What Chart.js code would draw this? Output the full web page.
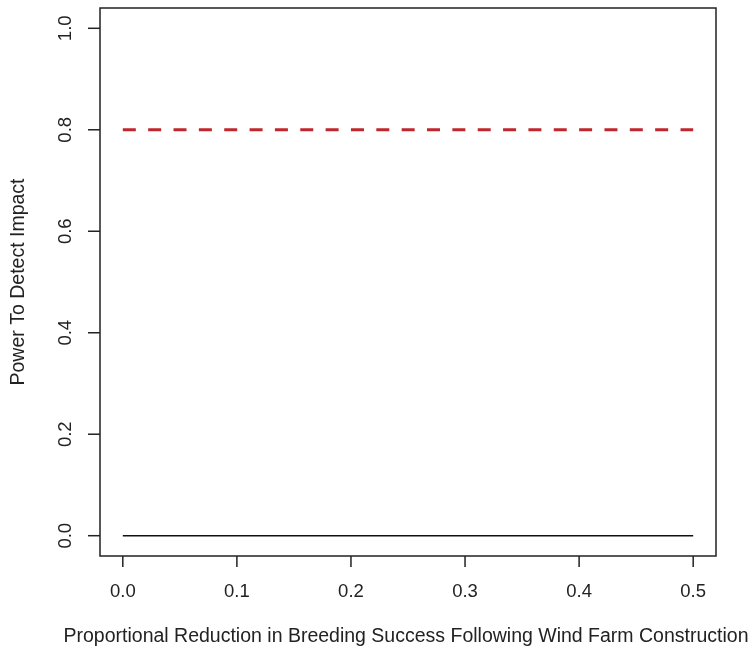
<!DOCTYPE html>
<html>
<head>
<meta charset="utf-8">
<script src="https://cdn.jsdelivr.net/npm/chart.js@4"></script>
<style>
html,body{margin:0;padding:0;background:#fff;}
#wrap{width:752px;height:648px;position:relative;}
</style>
</head>
<body>
<div id="wrap"><canvas id="c" width="752" height="648"></canvas></div>
<script>
// Data
const reduction = [0.0, 0.1, 0.2, 0.3, 0.4, 0.5];
const power = [0, 0, 0, 0, 0, 0];
const thresholdX = [0.0, 0.5];
const thresholdY = [0.8, 0.8];
const xTicks = [0.0, 0.1, 0.2, 0.3, 0.4, 0.5];
const yTicks = [0.0, 0.2, 0.4, 0.6, 0.8, 1.0];
const xTitle = 'Proportional Reduction in Breeding Success Following Wind Farm Construction';
const yTitle = 'Power To Detect Impact';

const TICK_FONT = '18.5px "Liberation Sans", Arial, sans-serif';
const TITLE_FONT = '19.5px "Liberation Sans", Arial, sans-serif';

const rAxes = {
  id: 'rAxes',
  afterDraw(chart) {
    const ctx = chart.ctx;
    const a = chart.chartArea;
    const xs = chart.scales.x, ys = chart.scales.y;
    ctx.save();
    ctx.strokeStyle = '#222';
    ctx.lineWidth = 1.5;
    ctx.strokeRect(a.left, a.top, a.right - a.left, a.bottom - a.top);
    ctx.fillStyle = '#222';
    ctx.font = TICK_FONT;
    ctx.textAlign = 'center';
    ctx.textBaseline = 'middle';
    // x ticks
    xTicks.forEach(v => {
      const px = xs.getPixelForValue(v);
      ctx.beginPath();
      ctx.moveTo(px, a.bottom);
      ctx.lineTo(px, a.bottom + 11);
      ctx.stroke();
      ctx.fillText(v.toFixed(1), px, 592);
    });
    // y ticks
    yTicks.forEach(v => {
      const py = ys.getPixelForValue(v);
      ctx.beginPath();
      ctx.moveTo(a.left, py);
      ctx.lineTo(a.left - 12, py);
      ctx.stroke();
      ctx.save();
      ctx.translate(66, py);
      ctx.rotate(-Math.PI / 2);
      ctx.fillText(v.toFixed(1), 0, 0);
      ctx.restore();
    });
    // titles
    ctx.font = TITLE_FONT;
    ctx.fillText(xTitle, (a.left + a.right) / 2 - 2, 637);
    ctx.save();
    ctx.translate(19, (a.top + a.bottom) / 2);
    ctx.rotate(-Math.PI / 2);
    ctx.fillText(yTitle, 0, 0);
    ctx.restore();
    ctx.restore();
  }
};

new Chart(document.getElementById('c'), {
  type: 'scatter',
  data: {
    datasets: [
      {
        data: reduction.map((x, i) => ({x, y: power[i]})),
        showLine: true,
        borderColor: '#111',
        borderWidth: 1.5,
        pointRadius: 0,
        fill: false
      },
      {
        data: thresholdX.map((x, i) => ({x, y: thresholdY[i]})),
        showLine: true,
        borderColor: '#c0272d',
        borderWidth: 3,
        borderDash: [13, 12.35],
        borderCapStyle: 'butt',
        pointRadius: 0,
        fill: false
      }
    ]
  },
  options: {
    responsive: false,
    animation: false,
    layout: {padding: {left: 100, right: 36, top: 8, bottom: 92}},
    plugins: {legend: {display: false}, tooltip: {enabled: false}},
    scales: {
      x: {type: 'linear', min: -0.02, max: 0.52, display: false},
      y: {type: 'linear', min: -0.04, max: 1.04, display: false}
    }
  },
  plugins: [rAxes]
});
</script>
</body>
</html>
